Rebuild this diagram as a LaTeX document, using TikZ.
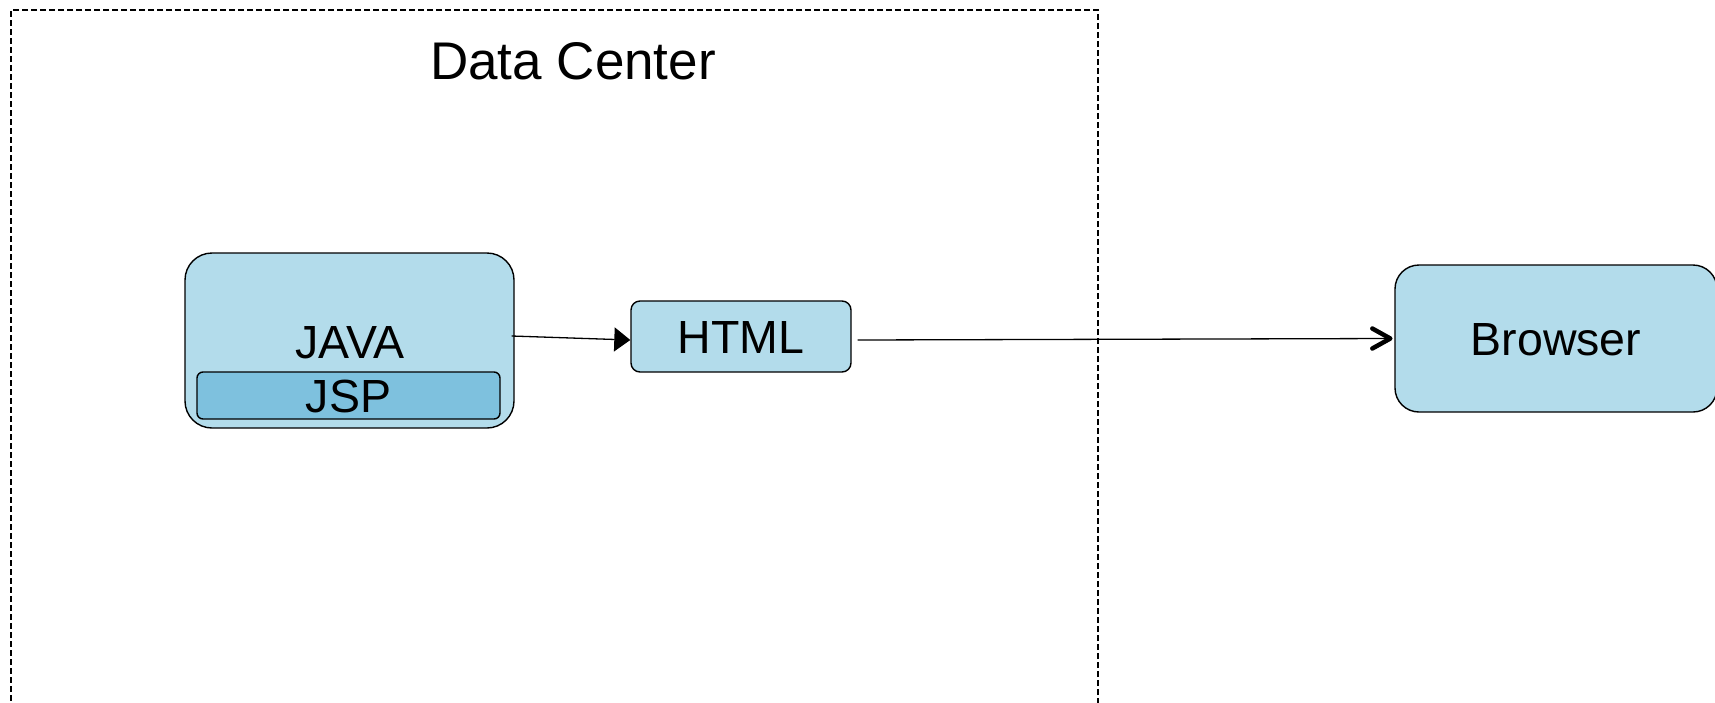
\documentclass[tikz,border=0pt]{standalone}
\usepackage{fontspec}
\setmainfont{Liberation Sans}
\usetikzlibrary{arrows.meta}
\definecolor{boxblue}{HTML}{B3DCEB}
\definecolor{jspblue}{HTML}{7EC1DE}
\tikzset{
  box/.style={draw=black, line width=1.4pt, fill=boxblue, inner sep=0pt,
    font=\fontsize{46.5}{50}\selectfont, text height=33.3pt, text depth=0pt},
  inner/.style={box, fill=jspblue, rounded corners=6pt},
  flow/.style={line width=1.3pt},
}
\begin{document}
\begin{tikzpicture}[x=1pt, y=-1pt]
  \useasboundingbox (0,0) rectangle (1715,702);
  % data centre frame (runs off the bottom edge)
  \draw[line width=1.4pt, dash pattern=on 6pt off 3pt] (1098,740) -- (1098,10) -- (11,10) -- (11,740);
  \node[font=\fontsize{53}{56}\selectfont, text height=38pt, text depth=0pt, inner sep=0pt]
    (dc) at (573,60) {Data Center};
  % server side
  \node[box, rounded corners=27pt, minimum width=329pt, minimum height=175pt] (java) at (349.5,340.5) {};
  \node[font=\fontsize{46.5}{50}\selectfont, text height=33.3pt, text depth=0pt, inner sep=0pt]
    (javalabel) at (350,342) {JAVA};
  \node[inner, minimum width=303pt, minimum height=47pt] (jsp) at (348.5,395.5) {JSP};
  \node[box, rounded corners=9pt, minimum width=220pt, minimum height=71pt] (html) at (741,336.5) {HTML};
  % client side
  \node[box, rounded corners=24pt, minimum width=322pt, minimum height=147pt] (browser) at (1556,338.5) {Browser};
  % connectors
  \draw[flow, -{Triangle[length=16pt,width=24pt]}]
    ([xshift=-3pt,yshift=4.5pt]java.east) -- ([yshift=-3.5pt]html.west);
  \draw[flow] ([xshift=6pt,yshift=-3.5pt]html.east) -- ([xshift=-4pt]browser.west);
  % open chevron head drawn with a heavy pen
  \draw[line width=4.5pt, line cap=round, line join=round]
    ([xshift=-22pt,yshift=10pt]browser.west) -- ([xshift=-4pt]browser.west) -- ([xshift=-22pt,yshift=-10pt]browser.west);
\end{tikzpicture}
\end{document}
